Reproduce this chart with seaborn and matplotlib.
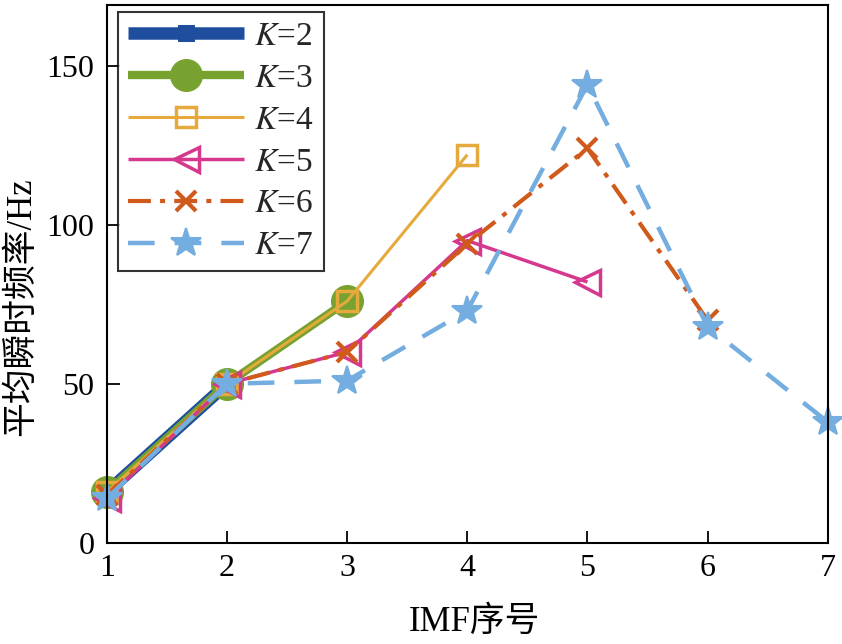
import matplotlib
matplotlib.use("Agg")
import matplotlib.pyplot as plt
import seaborn as sns
import pandas as pd

sns.set_theme(style="white")
plt.rcParams['font.family'] = ['Liberation Serif', 'Noto Sans CJK SC']
plt.rcParams['mathtext.fontset'] = 'stix'

imf = [1, 2, 3, 4, 5, 6, 7]
k2 = [16, 50]
k3 = [16, 50, 76]
k4 = [16, 50, 76, 122]
k5 = [14, 50, 60, 95, 82]
k6 = [15, 50, 60, 94, 124, 70]
k7 = [14, 50, 51, 73, 144, 68, 38]

labels = ["$K$=2", "$K$=3", "$K$=4", "$K$=5", "$K$=6", "$K$=7"]
series = [k2, k3, k4, k5, k6, k7]
colors = ["#1f4e9e", "#77a22f", "#e6aa3c", "#d6388e", "#cf5a1c", "#74ade0"]
styles = [
    dict(linewidth=9, marker="s", markersize=11, markerfacecolor="#1f4e9e", linestyle="-"),
    dict(linewidth=6, marker="o", markersize=23, markerfacecolor="#77a22f", linestyle="-"),
    dict(linewidth=2.2, marker="s", markersize=14, markerfacecolor="none", markeredgewidth=2.5, linestyle="-"),
    dict(linewidth=2.5, marker="<", markersize=18, markerfacecolor="none", markeredgewidth=2.5, linestyle="-"),
    dict(linewidth=3, marker="x", markersize=14, markeredgewidth=3, linestyle=(0, (5.5, 2.2, 1.2, 2.2))),
    dict(linewidth=3.2, marker="*", markersize=22, markeredgewidth=1.5, linestyle=(0, (6, 4.5))),
]

fig = plt.figure(figsize=(8.42, 6.44), dpi=100)
ax = fig.add_axes([0.127, 0.157, 0.856, 0.835])

for vals, lab, col, st in zip(series, labels, colors, styles):
    df = pd.DataFrame({"IMF": imf[:len(vals)], "f": vals})
    sns.lineplot(data=df, x="IMF", y="f", ax=ax, color=col, label=lab,
                 markeredgecolor=col, clip_on=False, solid_capstyle="butt",
                 dash_capstyle="butt", **st)

ax.set_xlim(1, 7)
ax.set_ylim(0, 169)
ax.set_xticks(imf)
ax.set_yticks([0, 50, 100, 150])
ax.tick_params(direction="in", length=9, width=1.3, labelsize=23, colors="black",
               bottom=True, left=True)
ax.tick_params(axis="x", pad=8)
ax.tick_params(axis="y", pad=9)
for s in ax.spines.values():
    s.set_color("black")
    s.set_linewidth(1.5)
ax.set_xlabel("IMF序号", fontsize=25, color="black")
ax.set_ylabel("平均瞬时频率/Hz", fontsize=25, color="black")
ax.xaxis.set_label_coords(0.51, -0.118)
ax.yaxis.set_label_coords(-0.096, 0.44)

leg = ax.legend(loc="upper left", bbox_to_anchor=(0.015, 0.988), fontsize=24,
                handlelength=3.5, frameon=True, fancybox=False, edgecolor="black",
                borderpad=0.3, labelspacing=0.34, handletextpad=0.3, borderaxespad=0.0)
leg.get_frame().set_linewidth(1.5)
leg.set_zorder(10)

fig.savefig("out.png", dpi=100)
